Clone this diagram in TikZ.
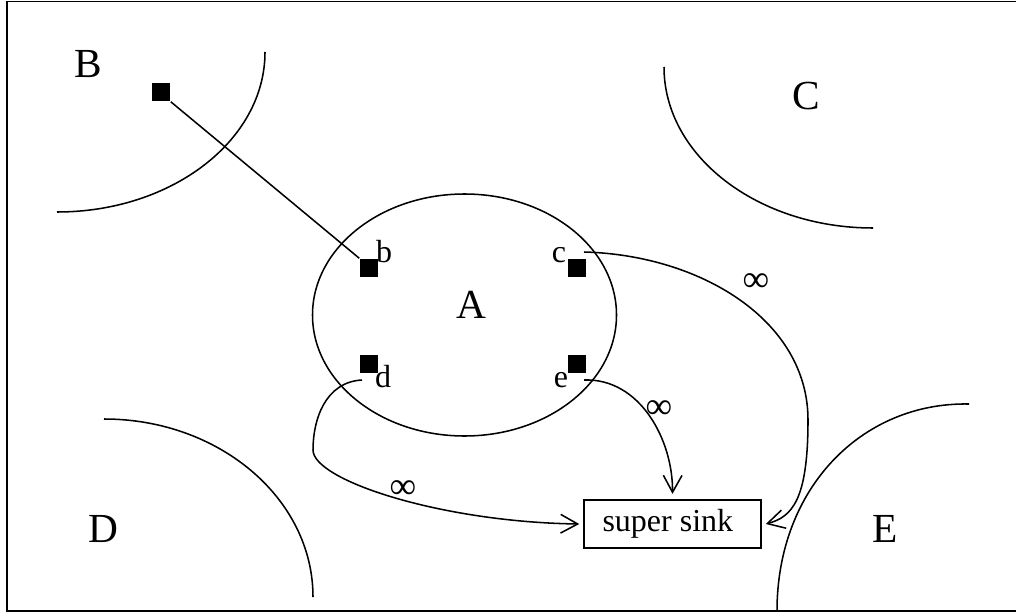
\documentclass[tikz,border=0pt]{standalone}
\usepackage{fontspec}
\setmainfont{Liberation Serif}
\usetikzlibrary{arrows.meta}
\begin{document}
\begin{tikzpicture}[x=0.75pt,y=-0.75pt, line width=1.15pt,
  bigl/.style={font=\fontsize{31}{31}\selectfont, inner sep=0pt, anchor=base},
  smalll/.style={font=\fontsize{24}{24}\selectfont, inner sep=0pt, anchor=base},
  inf/.style={font=\fontsize{28}{28}\selectfont, inner sep=0pt},
  sq/.style={fill=black, minimum size=13.5pt, inner sep=0pt},
  arr/.style={-{Straight Barb[length=12.75pt,width=14pt]}},
  sinkbox/.style={draw, minimum width=132.75pt, minimum height=36pt, inner sep=0pt,
    font=\fontsize{24}{24}\selectfont},
]
\useasboundingbox (0,0) rectangle (1016,613);
% frame
\draw (1030,1.5) -- (7,1.5) -- (7,611) -- (1030,611);
% region arcs
\draw (265,52) .. controls (265,140.4) and (171.9,212) .. (57,212);
\draw (664,67) .. controls (664,155.9) and (757.6,228) .. (873,228);
\draw (104,419) .. controls (219.4,419) and (313,498.7) .. (313,597);
\draw (969,404) .. controls (862,402) and (777,488) .. (777,611);
% region A
\draw (464.5,315) ellipse [x radius=152, y radius=121];
% sink
\node[sinkbox] (sink) at (672.5,524) {super sink\kern7pt};
% squares
\node[sq] (sB) at (161,92) {};
\node[sq] (sb) at (369,268) {};
\node[sq] (sc) at (577,268) {};
\node[sq] (sd) at (369,364) {};
\node[sq] (se) at (577,364) {};
% connector start points
\coordinate (cs) at (584,252);
\coordinate (es) at (584,380);
\coordinate (ds) at (362,380);
% connectors
\draw (sB.south east) -- (sb.north west);
\draw[arr] (cs) .. controls (700,255) and (808,320) .. (808,420)
  .. controls (808,500) and (792,517) .. ([xshift=3pt]sink.east);
\draw[arr] (es) .. controls (640,378) and (673,440) .. ([yshift=4pt]sink.north);
\draw[arr] (ds) .. controls (325,382) and (313,420) .. (313,450)
  .. controls (313,480) and (440,522) .. ([xshift=-3pt]sink.west);
% labels
\node[bigl] (lB) at (88,78) {B};
\node[bigl] (lC) at (806,110) {C};
\node[bigl] (lA) at (471,318) {A};
\node[bigl] (lD) at (103,542) {D};
\node[bigl] (lE) at (885,542) {E};
\node[smalll] (lb) at (384,262) {b};
\node[smalll] (lc) at (559,262) {c};
\node[smalll] (ld) at (383,387) {d};
\node[smalll] (le) at (561,387) {e};
\node[inf] (i1) at (756,283) {∞};
\node[inf] (i2) at (659,410) {∞};
\node[inf] (i3) at (403,490) {∞};
\end{tikzpicture}
\end{document}
